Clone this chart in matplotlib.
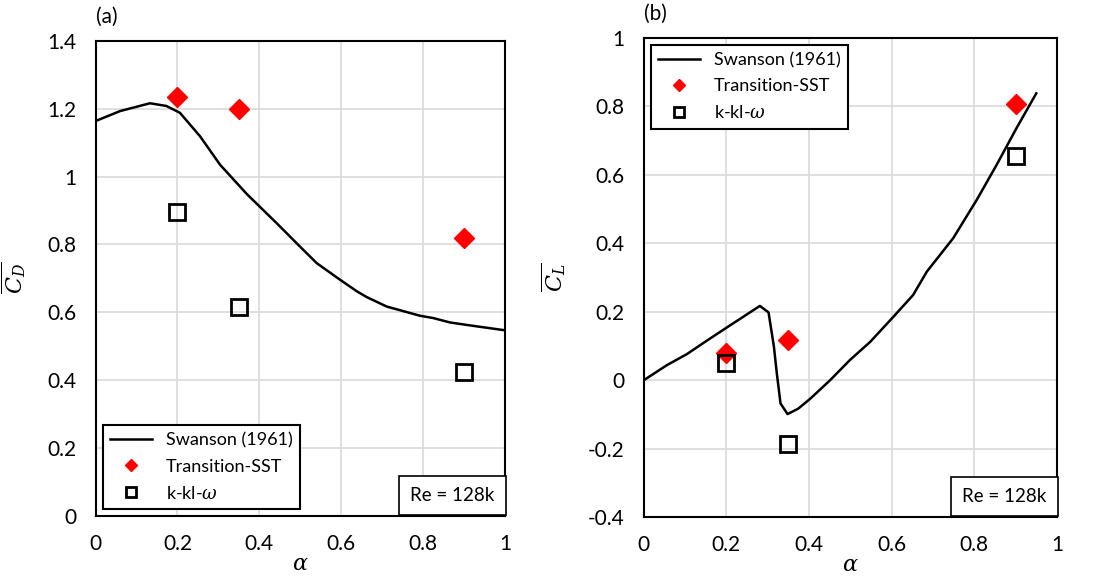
import matplotlib.pyplot as plt

plt.rcParams['font.family'] = ['Lato', 'DejaVu Sans']
plt.rcParams['mathtext.fontset'] = 'dejavuserif'

# Swanson (1961) drag curve
cd_alpha = [0.005, 0.06, 0.133, 0.173, 0.206, 0.255, 0.304, 0.369, 0.442, 0.499,
            0.540, 0.597, 0.638, 0.662, 0.711, 0.792, 0.825, 0.866, 0.923, 1.0]
cd_exp = [1.166, 1.193, 1.216, 1.208, 1.188, 1.119, 1.035, 0.949, 0.863, 0.794,
          0.745, 0.696, 0.662, 0.645, 0.617, 0.590, 0.583, 0.570, 0.560, 0.547]

# Swanson (1961) lift curve
cl_alpha = [0.0, 0.056, 0.104, 0.152, 0.201, 0.281, 0.302, 0.315, 0.322, 0.331,
            0.348, 0.374, 0.403, 0.451, 0.499, 0.548, 0.604, 0.652, 0.685, 0.749,
            0.806, 0.854, 0.902, 0.950]
cl_exp = [0.0, 0.044, 0.076, 0.115, 0.154, 0.217, 0.198, 0.098, 0.02, -0.068,
          -0.099, -0.083, -0.054, 0.0, 0.059, 0.112, 0.185, 0.249, 0.317, 0.415,
          0.527, 0.629, 0.736, 0.838]

# simulations
sim_alpha = [0.2, 0.35, 0.9]
cd_sst = [1.235, 1.2, 0.818]
cd_kkl = [0.897, 0.615, 0.425]
cl_sst = [0.08, 0.117, 0.808]
cl_kkl = [0.049, -0.187, 0.656]


def panel(ax, x_exp, y_exp, y_sst, y_kkl, ylim, yticks, ylabel, tag, legend_loc):
    ax.plot(x_exp, y_exp, color='black', lw=1.8, label='Swanson (1961)', zorder=3)
    ax.plot(sim_alpha, y_sst, 'D', color='#ff0000', ms=10, ls='none',
            label='Transition-SST', zorder=4)
    ax.plot(sim_alpha, y_kkl, 's', mfc='none', mec='black', mew=2, ms=11, ls='none',
            label=r'k-kl-$\omega$', zorder=4)
    ax.set_xlim(0, 1)
    ax.set_ylim(*ylim)
    ax.set_xticks([0, 0.2, 0.4, 0.6, 0.8, 1])
    ax.set_xticklabels(['0', '0.2', '0.4', '0.6', '0.8', '1'])
    ax.set_yticks(yticks)
    ax.set_yticklabels([('%g' % v) for v in yticks])
    ax.grid(True, color='#d9d9d9', lw=1.2)
    ax.set_axisbelow(True)
    ax.tick_params(length=0, labelsize=15)
    ax.tick_params(axis='y', pad=14)
    ax.tick_params(axis='x', pad=13)
    for s in ax.spines.values():
        s.set_linewidth(1.5)
    ax.set_xlabel(r'$\alpha$', fontsize=16, labelpad=0)
    ax.set_ylabel(ylabel, fontsize=16, labelpad=14)
    ax.text(0, 1.03, tag, transform=ax.transAxes, fontsize=15, va='bottom')
    leg = ax.legend(loc=legend_loc, fontsize=13, frameon=True, fancybox=False,
                    edgecolor='black', framealpha=1, markerscale=0.65,
                    handlelength=2.3, borderaxespad=0.4, labelspacing=0.55)
    leg.get_frame().set_linewidth(1.5)
    ax.text(0.975, 0.025, 'Re = 128k', transform=ax.transAxes, fontsize=13.5,
            ha='right', va='bottom',
            bbox=dict(boxstyle='square,pad=0.6', fc='white', ec='black', lw=1.2))


fig = plt.figure(figsize=(10.93, 5.83), dpi=100)
ax1 = fig.add_axes([0.0874, 0.115, 0.3747, 0.815])
ax2 = fig.add_axes([0.589, 0.113, 0.378, 0.822])

panel(ax1, cd_alpha, cd_exp, cd_sst, cd_kkl, (0, 1.4),
      [0, 0.2, 0.4, 0.6, 0.8, 1, 1.2, 1.4], r'$\overline{C_D}$', '(a)', 'lower left')
panel(ax2, cl_alpha, cl_exp, cl_sst, cl_kkl, (-0.4, 1),
      [-0.4, -0.2, 0, 0.2, 0.4, 0.6, 0.8, 1], r'$\overline{C_L}$', '(b)', 'upper left')

fig.savefig('out.png', dpi=100)
